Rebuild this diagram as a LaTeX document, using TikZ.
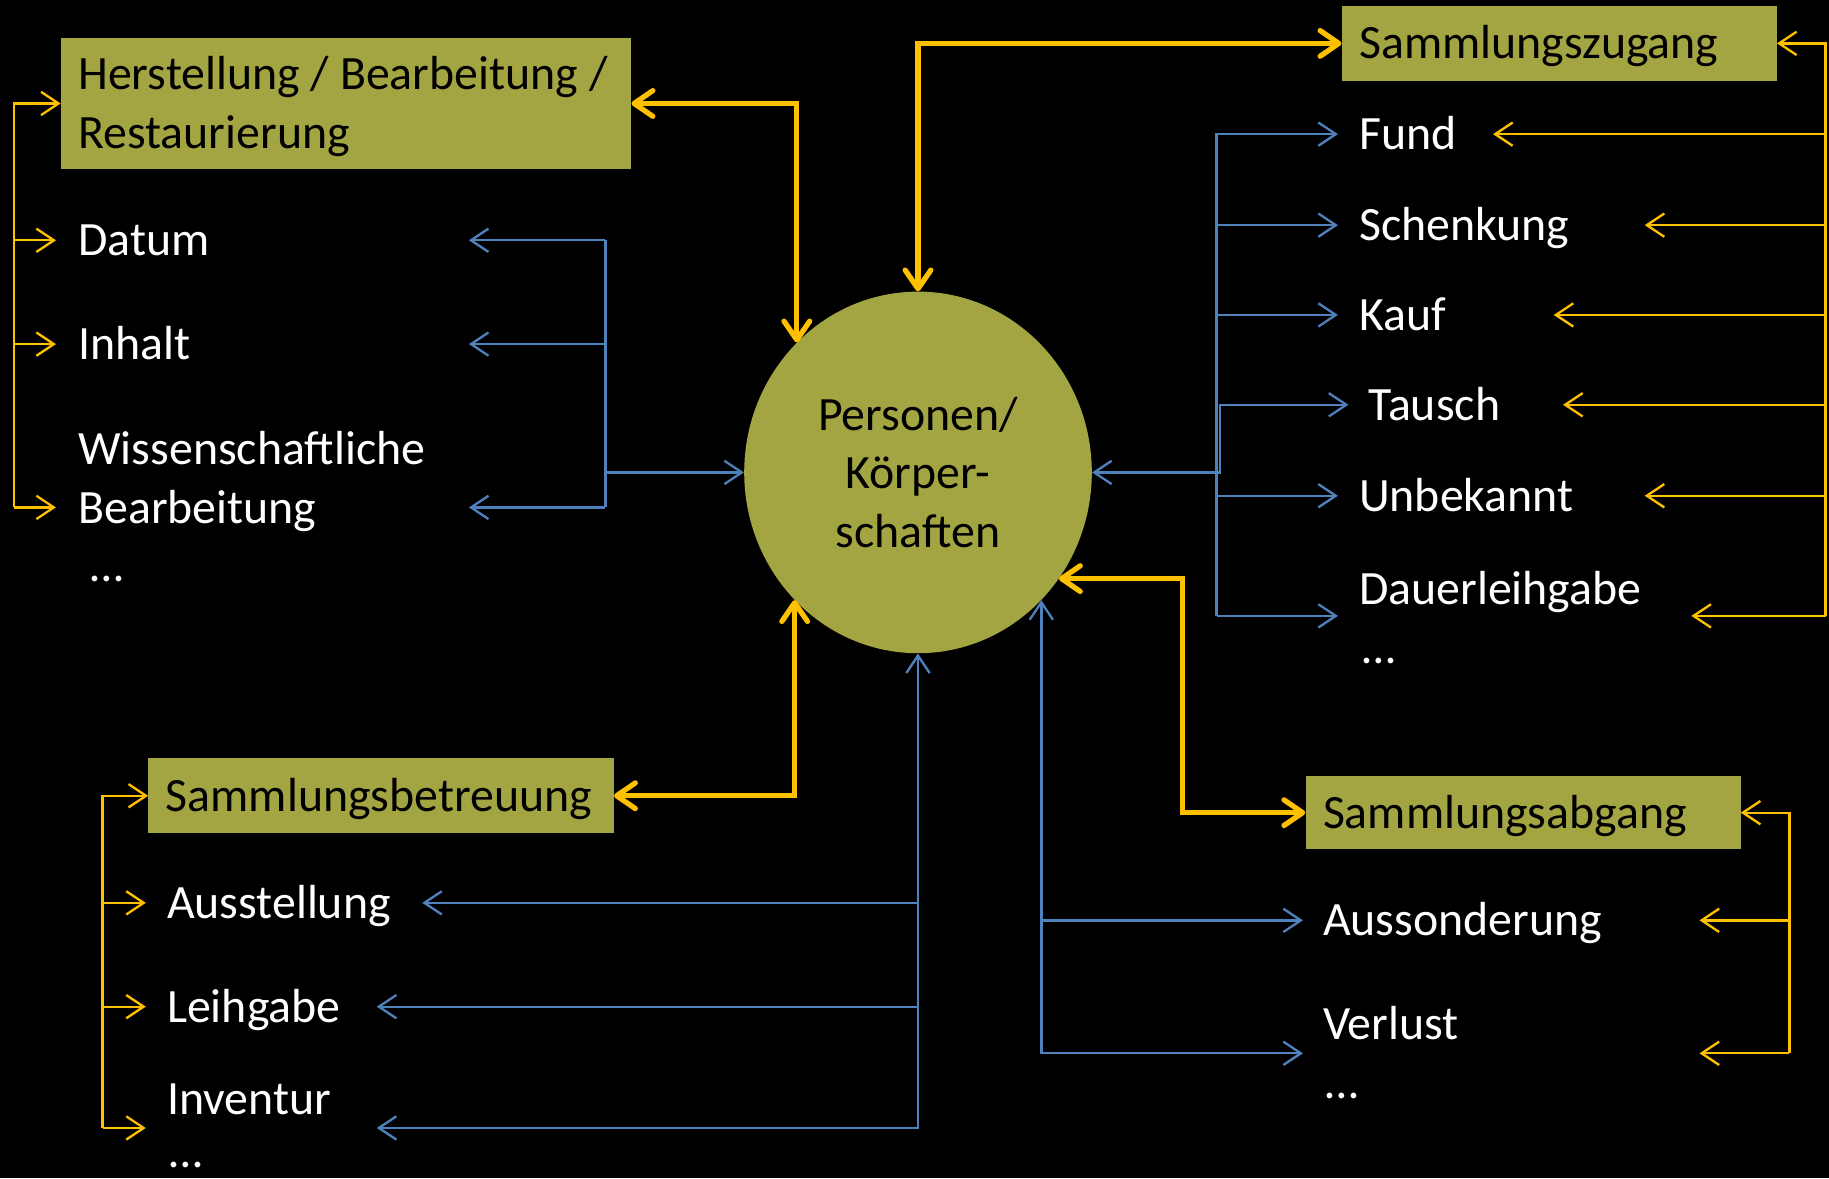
\documentclass[tikz,border=0pt]{standalone}
\usepackage{fontspec}
\setmainfont{Carlito}
\usetikzlibrary{arrows.meta,shapes.geometric}
\definecolor{oliveg}{RGB}{163,164,66}
\definecolor{yel}{RGB}{255,192,0}
\definecolor{blu}{RGB}{79,129,189}
\begin{document}
\begin{tikzpicture}[x=1pt,y=-1pt,
  every node/.style={font=\fontsize{41}{50}\selectfont},
  box/.style={fill=oliveg, anchor=north west, inner xsep=15pt, inner ysep=0pt, align=left, text=black, text height=26.4pt, text depth=0pt},
  lbl/.style={text=white, inner sep=0pt, anchor=west, align=left, text height=26.4pt, text depth=0pt},
  ylink/.style={draw=yel, line width=2pt, >={Straight Barb[length=15pt,width=20pt]}},
  blink/.style={draw=blu, line width=2pt, >={Straight Barb[length=15pt,width=20pt]}},
  ymain/.style={draw=yel, line width=4.5pt, >={Straight Barb[length=16pt,width=22pt,round]}},
]
\fill[black] (0,0) rectangle (1568,1010);
\useasboundingbox (0,0) rectangle (1568,1010);

% boxes and circle
\node[box, minimum width=489pt, minimum height=113pt, text width=459pt, text height=26.4pt, text depth=50pt] (b1) at (52,32) {\spaceskip=9.3pt\relax\mbox{Herstellung / Bearbeitung /}\\Restaurierung};
\node[box, minimum width=373pt, minimum height=64pt, text width=343pt] (b2) at (1150,5) {Sammlungszugang};
\node[box, minimum width=373pt, minimum height=63pt, text width=343pt] (b3) at (1119,665) {Sammlungsabgang};
\node[box, minimum width=399pt, minimum height=64pt, text width=369pt] (b4) at (127,650) {Sammlungsbetreuung};
\node[ellipse, fill=oliveg, minimum width=298pt, minimum height=310pt, inner sep=0pt, align=center, text=black] (c) at (787,405) {Personen/\\Körper-\\schaften};

% labels
\node[lbl] (datum) at (67,206) {Datum};
\node[lbl] (inhalt) at (67,295) {Inhalt};
\node[lbl, anchor=north west, text height=126.4pt] (wiss) at (67,371.8) {Wissenschaftliche\\Bearbeitung\\\hspace*{10pt}…};
\node[lbl] (fund) at (1165,115) {Fund};
\node[lbl] (schenk) at (1165,193) {Schenkung};
\node[lbl] (kauf) at (1165,270) {Kauf};
\node[lbl] (tausch) at (1173,347) {Tausch};
\node[lbl] (unbek) at (1165,425) {Unbekannt};
\node[lbl, anchor=north west, text height=76.4pt] (dauer) at (1165,491.8) {Dauerleihgabe\\\hspace*{3pt}…};
\node[lbl] (auss) at (1134,789) {Aussonderung};
\node[lbl, anchor=north west, text height=76.4pt] (verl) at (1134,864.8) {Verlust\\\hspace*{2pt}…};
\node[lbl] (ausst) at (143,774) {Ausstellung};
\node[lbl] (leih) at (143,863) {Leihgabe};
\node[lbl, anchor=north west, text height=71.4pt] (inv) at (143,929) {Inventur\\[-5pt]\hspace*{2pt}…};

% coordinates
\coordinate (ylA) at (12,435);
\coordinate (tDat) at (48,206);
\coordinate (tInh) at (48,295);
\coordinate (tWis) at (48,435);
\coordinate (blT) at (519,206);
\coordinate (blB) at (519,435);
\coordinate (uDat) at (402,206);
\coordinate (uInh) at (402,295);
\coordinate (uWis) at (402,435);
\coordinate (yrA) at (1565,528);
\coordinate (tFund) at (1280,115);
\coordinate (tSch) at (1410,193);
\coordinate (tKauf) at (1332,270);
\coordinate (tTau) at (1340,347);
\coordinate (tUnb) at (1410,425);
\coordinate (tDau) at (1450,528);
\coordinate (brA) at (1043,528);
\coordinate (sFund) at (1147,115);
\coordinate (sSch) at (1147,193);
\coordinate (sKauf) at (1147,270);
\coordinate (sUnb) at (1147,425);
\coordinate (sDau) at (1147,528);
\coordinate (jT) at (1046,347);
\coordinate (sTau) at (1156,347);
\coordinate (jR) at (1014,496);
\coordinate (yrB) at (1534,903);
\coordinate (tAus) at (1457,789);
\coordinate (tVer) at (1457,903);
\coordinate (sAus) at (1117,789);
\coordinate (sVer) at (1117,903);
\coordinate (uAusst) at (362,774);
\coordinate (uLeih) at (323,863);
\coordinate (uInv) at (323,967);
\coordinate (ylB) at (88,967);
\coordinate (tAusst) at (125,774);
\coordinate (tLeih) at (125,863);
\coordinate (tInv) at (125,967);

% left top yellow bracket
\draw[ylink,->] (ylA) |- (b1.west);
\draw[ylink,->] (ylA |- tDat) -- (tDat);
\draw[ylink,->] (ylA |- tInh) -- (tInh);
\draw[ylink,->] (ylA) -- (tWis);
% left blue bracket
\draw[blink] (blT) -- (blB);
\draw[blink,->] (blT) -- (uDat);
\draw[blink,->] (blT |- uInh) -- (uInh);
\draw[blink,->] (blB) -- (uWis);
\draw[blink,->] (blT |- c.west) -- (c.west);
% right yellow bracket
\draw[ylink,->] (yrA) |- (b2.east);
\draw[ylink,->] (yrA |- tFund) -- (tFund);
\draw[ylink,->] (yrA |- tSch) -- (tSch);
\draw[ylink,->] (yrA |- tKauf) -- (tKauf);
\draw[ylink,->] (yrA |- tTau) -- (tTau);
\draw[ylink,->] (yrA |- tUnb) -- (tUnb);
\draw[ylink,->] (yrA) -- (tDau);
% right blue bracket
\draw[blink,->] (brA) |- (sFund);
\draw[blink,->] (brA |- sSch) -- (sSch);
\draw[blink,->] (brA |- sKauf) -- (sKauf);
\draw[blink,->] (brA |- sUnb) -- (sUnb);
\draw[blink,->] (brA) -- (sDau);
\draw[blink,<->] (c.east) -| (jT) -- (sTau);
% bottom right
\draw[ylink,->] (yrB) |- (b3.east);
\draw[ylink,->] (yrB |- tAus) -- (tAus);
\draw[ylink,->] (yrB) -- (tVer);
\draw[blink,<->] (c.-46.3) |- (sVer);
\draw[blink,->] (c.-46.3 |- sAus) -- (sAus);
% bottom
\draw[blink,<->] (c.south) |- (uInv);
\draw[blink,->] (c.south |- uAusst) -- (uAusst);
\draw[blink,->] (c.south |- uLeih) -- (uLeih);
\draw[ylink,->] (ylB) |- (b4.west);
\draw[ylink,->] (ylB |- tAusst) -- (tAusst);
\draw[ylink,->] (ylB |- tLeih) -- (tLeih);
\draw[ylink,->] (ylB) -- (tInv);
% thick yellow
\draw[ymain,<->] (b1.east) -| (c.133.7);
\draw[ymain,<->] (c.north) |- (b2.west);
\draw[ymain,<->] (c.226.3) |- (b4.east);
\draw[ymain,<->] (c.-37) -- (c.-37 -| jR) |- (b3.west);
\end{tikzpicture}
\end{document}
